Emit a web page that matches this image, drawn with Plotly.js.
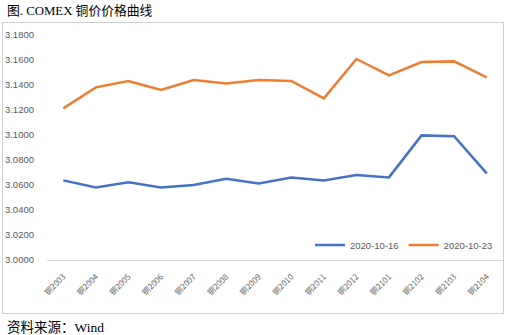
<!DOCTYPE html>
<html><head><meta charset="utf-8">
<script src="https://cdn.plot.ly/plotly-3.0.1.min.js"></script>
<style>html,body{margin:0;padding:0;background:#fff;}#c{width:506px;height:335px;}</style>
</head><body><div id="c"></div>
<script>
const categories = ["铜2003","铜2004","铜2005","铜2006","铜2007","铜2008","铜2009","铜2010","铜2011","铜2012","铜2101","铜2102","铜2103","铜2104"];
const series1Name = "2020-10-16";
const series1 = [3.0637,3.0581,3.0621,3.0581,3.0600,3.0650,3.0613,3.0659,3.0637,3.0680,3.0661,3.0997,3.0990,3.0693];
const series2Name = "2020-10-23";
const series2 = [3.1213,3.1381,3.1432,3.1360,3.1440,3.1413,3.1440,3.1432,3.1293,3.1608,3.1477,3.1584,3.1589,3.1461];
const yTicks = [3.0,3.02,3.04,3.06,3.08,3.10,3.12,3.14,3.16,3.18];

const W = 506, H = 335, L = 3, R = 3, T = 23, B = 22;
const pw = W - L - R, ph = H - T - B;
const px = v => (v - L) / pw;
const py = v => (H - B - v) / ph;

const traces = [
  {x: categories, y: series1, name: series1Name, type: "scatter", mode: "lines", line: {color: "#4472C4", width: 2.5}},
  {x: categories, y: series2, name: series2Name, type: "scatter", mode: "lines", line: {color: "#ED7D31", width: 2.5}},
  {x: [], y: [], xaxis: "x2", yaxis: "y2", type: "scatter", mode: "lines", showlegend: false, hoverinfo: "skip"}
];
const frameAxis = {showline: true, mirror: true, linecolor: "#d0d0d0", linewidth: 1, showgrid: false, zeroline: false,
                   showticklabels: false, ticks: "", range: [0, 1], fixedrange: true};
const layout = {
  width: W, height: H,
  margin: {l: L, r: R, t: T, b: B},
  paper_bgcolor: "#fff", plot_bgcolor: "rgba(0,0,0,0)",
  font: {family: "Liberation Sans, Noto Sans CJK SC, sans-serif", color: "#595959", size: 9},
  xaxis: {type: "category", domain: [px(47), px(503)], range: [-0.5, categories.length - 0.5], tickangle: -45,
          showgrid: false, showline: true, linecolor: "#d9d9d9", linewidth: 1, ticks: "", automargin: false, ticklabelstandoff: 8,
          tickfont: {size: 8, color: "#666666", family: "Noto Sans CJK SC, sans-serif"}, fixedrange: true, zeroline: false},
  yaxis: {domain: [py(260), py(35)], range: [3.0, 3.18], tickvals: yTicks, tickformat: ".4f", showgrid: false, showline: false,
          zeroline: false, ticks: "", ticklabelstandoff: 12, automargin: false, tickfont: {size: 9.5, color: "#595959"}, fixedrange: true},
  xaxis2: Object.assign({domain: [0, 1], anchor: "y2"}, frameAxis),
  yaxis2: Object.assign({domain: [0, 1], anchor: "x2"}, frameAxis),
  showlegend: true,
  legend: {orientation: "h", x: px(498), xanchor: "right", y: py(245), yanchor: "middle", font: {size: 9.5, color: "#595959"},
           bgcolor: "rgba(0,0,0,0)", tracegroupgap: 0},
  annotations: [
    {text: "图. COMEX 铜价价格曲线", xref: "paper", yref: "paper", x: px(5), y: py(10), xanchor: "left", yanchor: "middle",
     showarrow: false, font: {family: "Liberation Serif, Noto Sans CJK SC, serif", size: 12.8, color: "#000"}},
    {text: "资料来源：Wind", xref: "paper", yref: "paper", x: px(5), y: py(327), xanchor: "left", yanchor: "middle",
     showarrow: false, font: {family: "Liberation Serif, Noto Sans CJK SC, serif", size: 13.5, color: "#000"}}
  ]
};
Plotly.newPlot("c", traces, layout, {displayModeBar: false, staticPlot: true});
</script></body></html>
